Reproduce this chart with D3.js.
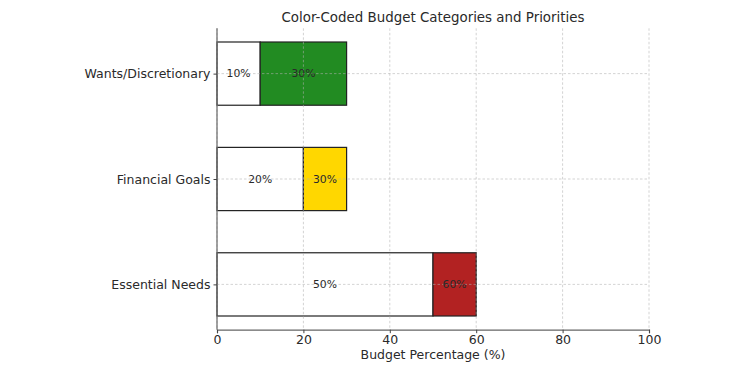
<!DOCTYPE html>
<html>
<head>
<meta charset="utf-8">
<script src="https://cdn.jsdelivr.net/npm/d3@7"></script>
<style>
  html, body { margin: 0; padding: 0; background: #fff; }
  svg { display: block; font-family: "DejaVu Sans", sans-serif; }
</style>
</head>
<body>
<svg id="chart" width="750" height="375"></svg>
<script>
const categories = ["Essential Needs", "Financial Goals", "Wants/Discretionary"];
const recommended = [50, 20, 10];
const actual = [60, 30, 30];
const colors = ["#b22222", "#ffd700", "#228b22"];
const xTicks = [0, 20, 40, 60, 80, 100];
const title = "Color-Coded Budget Categories and Priorities";
const xLabel = "Budget Percentage (%)";

const svg = d3.select("#chart");
const pLeft = 217, pRight = 649, pTop = 28.3, pBottom = 329.7;
const x = d3.scaleLinear().domain([0, 100]).range([pLeft, pRight]);
const y = d3.scaleLinear().domain([-0.43, 2.43]).range([pBottom, pTop]);
const barH = y(0) - y(0.6);
const textCol = "#2a2a2a";

const idx = categories.map((c, i) => i);
svg.append("g").selectAll("rect").data(idx).join("rect")
  .attr("x", i => x(0)).attr("y", i => y(i) - barH / 2)
  .attr("width", i => x(recommended[i]) - x(0)).attr("height", barH)
  .attr("fill", "#fff").attr("stroke", "#222").attr("stroke-width", 1.2);

svg.append("g").selectAll("rect").data(idx).join("rect")
  .attr("x", i => x(recommended[i])).attr("y", i => y(i) - barH / 2)
  .attr("width", i => x(actual[i]) - x(recommended[i])).attr("height", barH)
  .attr("fill", i => colors[i]).attr("stroke", "#222").attr("stroke-width", 1.2);

// grid (drawn over bars)
const grid = svg.append("g").attr("stroke", "#b0b0b0").attr("stroke-opacity", 0.7)
  .attr("stroke-width", 0.8).attr("stroke-dasharray", "2.5,2");
grid.selectAll("line.v").data(xTicks).join("line").attr("class", "v")
  .attr("x1", d => x(d)).attr("x2", d => x(d)).attr("y1", pTop).attr("y2", pBottom);
grid.selectAll("line.h").data(idx).join("line").attr("class", "h")
  .attr("x1", pLeft).attr("x2", pRight).attr("y1", i => y(i)).attr("y2", i => y(i));

// bar labels
svg.append("g").selectAll("text").data(idx).join("text")
  .attr("x", i => x(recommended[i] / 2)).attr("y", i => y(i))
  .attr("text-anchor", "middle").attr("dominant-baseline", "central")
  .attr("font-size", 10.8).attr("fill", textCol)
  .text(i => recommended[i] + "%");
svg.append("g").selectAll("text").data(idx).join("text")
  .attr("x", i => x((recommended[i] + actual[i]) / 2)).attr("y", i => y(i))
  .attr("text-anchor", "middle").attr("dominant-baseline", "central")
  .attr("font-size", 10.8).attr("fill", textCol)
  .text(i => actual[i] + "%");

// axes
const xAxis = d3.axisBottom(x).tickValues(xTicks).tickSize(3.5).tickPadding(1.5).tickFormat(d3.format("d"));
const gx = svg.append("g").attr("transform", `translate(0,${pBottom})`).call(xAxis);
gx.select(".domain").attr("stroke", "#666").attr("stroke-width", 1.2);
gx.selectAll(".tick line").attr("stroke", "#444");
gx.selectAll("text").attr("font-size", 12.5).attr("fill", textCol).attr("font-family", "DejaVu Sans");

const yAxis = d3.axisLeft(y).tickValues(idx).tickSize(3.5).tickPadding(3).tickFormat(i => categories[i]);
const gy = svg.append("g").attr("transform", `translate(${pLeft},0)`).call(yAxis);
gy.select(".domain").attr("stroke", "#666").attr("stroke-width", 1.2).attr("d", `M0,${pTop}V${pBottom}`);
gy.selectAll(".tick line").attr("stroke", "#444");
gy.selectAll("text").attr("font-size", 12.5).attr("fill", textCol).attr("font-family", "DejaVu Sans");

svg.append("text").attr("x", (pLeft + pRight) / 2).attr("y", 359)
  .attr("text-anchor", "middle").attr("font-size", 12.5).attr("fill", textCol).text(xLabel);
svg.append("text").attr("x", (pLeft + pRight) / 2).attr("y", 22)
  .attr("text-anchor", "middle").attr("font-size", 13.4).attr("fill", textCol).text(title);
</script>
</body>
</html>
